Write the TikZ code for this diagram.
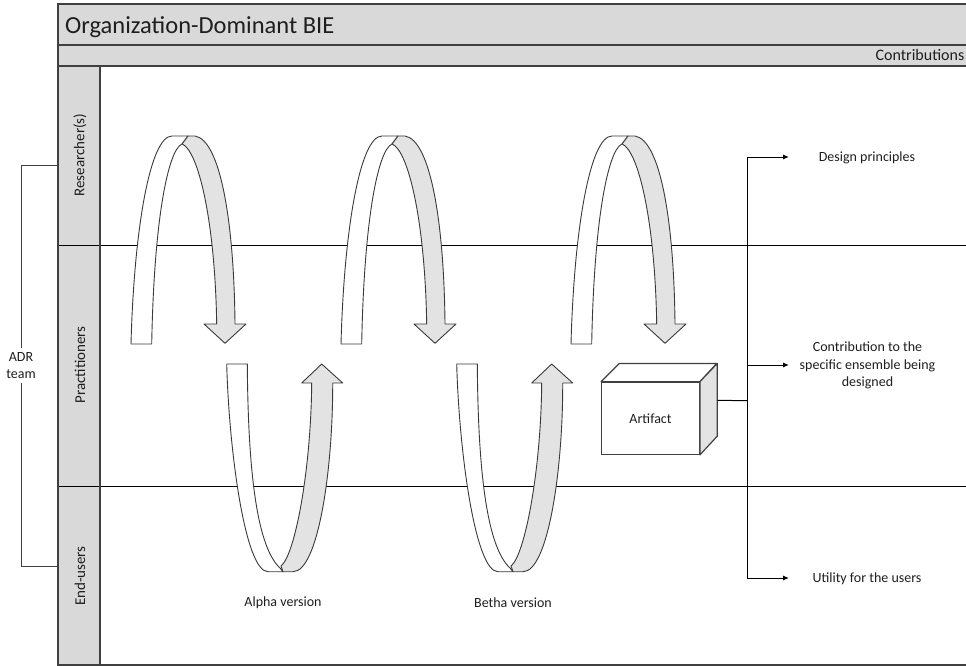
\documentclass[tikz,border=0pt]{standalone}
\usepackage{fontspec}
\setmainfont{Carlito}
\usetikzlibrary{arrows.meta,calc}
\definecolor{hdr}{HTML}{D9D9D9}
\definecolor{frm}{HTML}{404040}
\definecolor{loopgray}{HTML}{E3E3E3}
\definecolor{loopedge}{HTML}{3A3A3A}
\definecolor{txt}{HTML}{1E1E1E}
\begin{document}
\begin{tikzpicture}[x=1pt,y=-1pt,
  frameline/.style={draw=frm,line width=1.5pt},
  lane/.style={draw=black,line width=1pt},
  loopw/.style={fill=white,draw=loopedge,line width=0.9pt,line join=round},
  loopg/.style={fill=loopgray,draw=loopedge,line width=0.9pt,line join=round},
  conn/.style={draw=black,line width=1pt},
  arr/.style={conn,-{Latex[length=6pt,width=5pt]}},
  lbl/.style={text=txt,font=\fontsize{14}{17.3}\selectfont,inner sep=0pt},
  lanelbl/.style={text=txt,font=\fontsize{15}{18}\selectfont,rotate=90,inner sep=0pt},
  toploop/.pic={
    \filldraw[loopw] (0,0) .. controls (3,-114) and (19,-208) .. (41,-208) -- (57,-208) -- (51,-200)
       .. controls (37,-194) and (23,-124) .. (20.7,0) -- cycle;
    \filldraw[loopg] (57,-208) -- (64,-208) .. controls (89,-204) and (103,-124) .. (104,-20)
       -- (115,-20) -- (94,-0.7) -- (73,-20) -- (85.7,-20)
       .. controls (84,-124) and (67,-194) .. (51,-200) -- cycle;
  },
  botloop/.pic={
    \filldraw[loopw] (0,0) -- (20.6,0) .. controls (21.3,96) and (28.3,181) .. (53.3,204)
       -- (56.3,207.7) -- (41.3,207.7) .. controls (18.3,207.7) and (2.3,86) .. (0,0) -- cycle;
    \filldraw[loopg] (56.3,207.7) -- (66.3,207.7) .. controls (91.3,207.7) and (106.3,106) .. (106,19)
       -- (116,19) -- (95,0) -- (75,19) -- (85,19)
       .. controls (84.3,106) and (68.3,191) .. (54.3,202) -- cycle;
  }
]
\useasboundingbox (0,0) rectangle (966,666);
\begin{scope}
  \clip (0,0) rectangle (966,666);
  \fill[hdr] (58,4) rectangle (975,66);
  \fill[hdr] (58,66) rectangle (100,670);
  \draw[lane] (58,245) -- (975,245);
  \draw[lane] (58,486) -- (975,486);
  \draw[frameline] (975,4) -- (58,4) -- (58,665.2) -- (975,665.2);
  \draw[frameline] (58,45) -- (975,45);
  \draw[frameline] (58,66) -- (975,66);
  \draw[frameline] (100,66) -- (100,670);
\end{scope}
\node[anchor=base west,text=txt,inner sep=0pt,font=\fontsize{24.5}{28}\selectfont] (title) at (65,33.3) {Organization-Dominant BIE};
\node[anchor=base east,text=txt,inner sep=0pt,font=\fontsize{16}{19}\selectfont] (contrib) at (964.5,60.5) {Contributions};

% lane labels
\node[lanelbl] (lres) at (80,155) {Researcher(s)};
\node[lanelbl] (lpra) at (80,365) {Practitioners};
\node[lanelbl] (lend) at (80,576) {End-users};

% ADR team bracket
\node[lbl,align=center,inner sep=4pt] (adr) at (21,365.5) {ADR\\team};
\coordinate (brtop) at (58,165);
\coordinate (brbot) at (58,566);
\draw[draw=frm,line width=1pt] (brtop) -| (adr.north);
\draw[draw=frm,line width=1pt] (adr.south) |- (brbot);

% loops
\pic (tl1) at (131,344) {toploop};
\pic (tl2) at (341,344) {toploop};
\pic (tl3) at (571,344) {toploop};
\pic (bl1) at (226.7,364) {botloop};
\pic (bl2) at (456.7,364) {botloop};

\node[lbl,anchor=base] (alpha) at (283,606.5) {Alpha version};
\node[lbl,anchor=base] (betha) at (513,607) {Betha version};

% artifact box
\node[lbl,draw=frm,fill=white,line width=1.2pt,minimum width=97.6pt,minimum height=72pt] (art) at (650.5,418.3) {Artifact};
\filldraw[fill=white,draw=frm,line width=1.2pt,line join=round] (art.north west) -- ++(18.3,-18.3) -- ++(97.4,0) -- ($(art.north east)$) -- cycle;
\filldraw[fill=loopgray,draw=frm,line width=1.2pt,line join=round] (art.north east) -- ++(17.4,-18.3) -- ++(0,72.7) -- (art.south east) -- cycle;
\coordinate (artside) at ($(art.east)+(17.4,-18)$);

% contributions connectors
\coordinate (jtop) at (747,157);
\coordinate (jcs) at (747,365);
\coordinate (jart) at (747,400.7);
\coordinate (jbot) at (747,578);
\coordinate (dpa) at (789,157);
\coordinate (csa) at (789,365);
\coordinate (uta) at (789,578);
\draw[conn] (artside) -- (jart);
\draw[conn] (jtop) -- (jbot);
\draw[arr] (jtop) -- (dpa);
\draw[arr] (jcs) -- (csa);
\draw[arr] (jbot) -- (uta);

\node[lbl,anchor=base] (dp) at (867,161.5) {Design principles};
\node[lbl,align=center] (cs) at (867.5,365.5) {Contribution to the\\specific ensemble being\\designed};
\node[lbl,anchor=base] (ut) at (867,582.5) {Utility for the users};
\end{tikzpicture}
\end{document}
